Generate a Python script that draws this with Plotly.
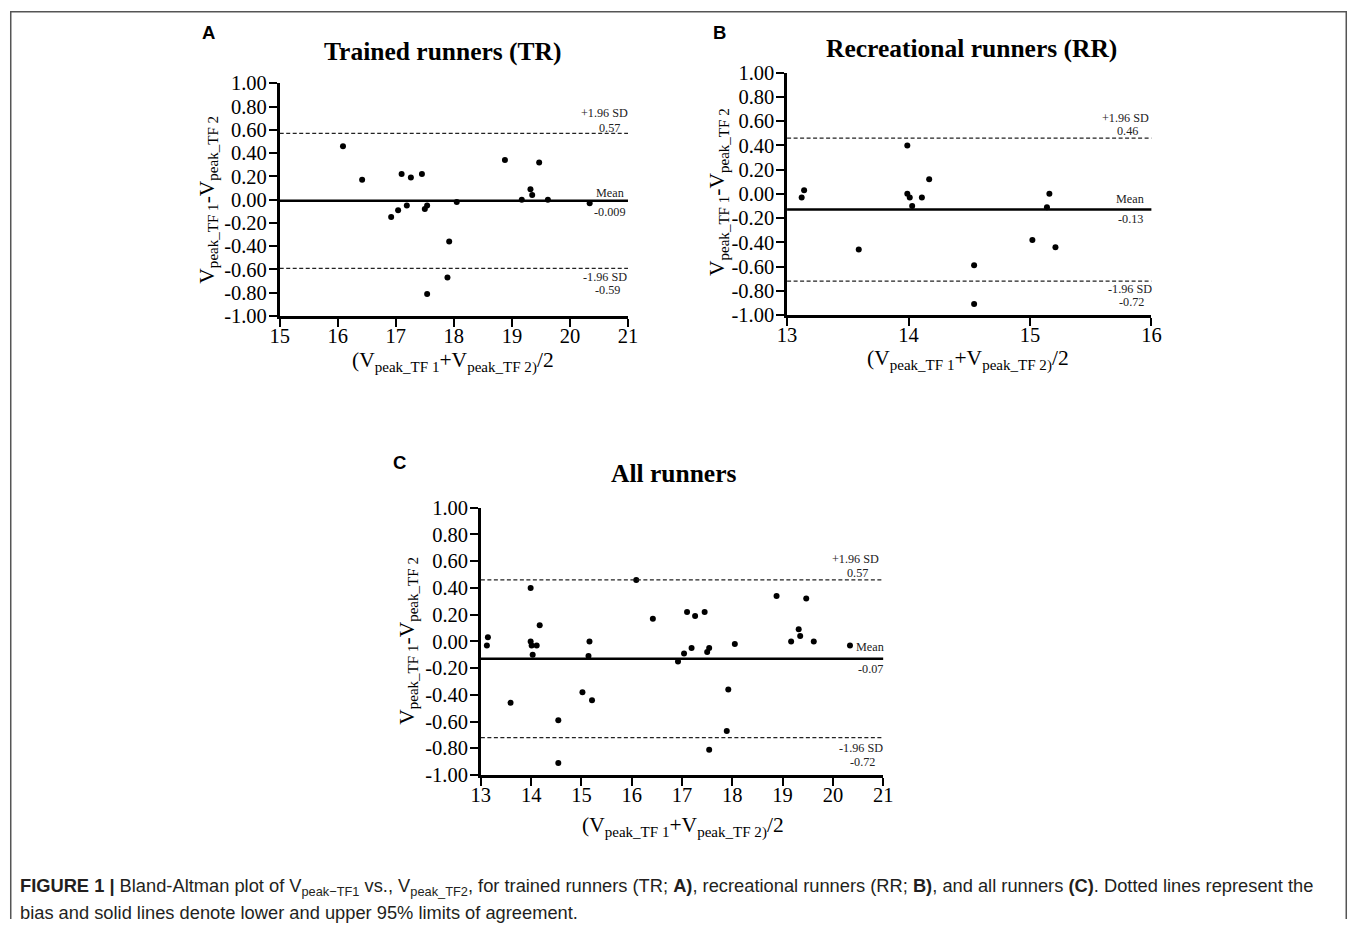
import plotly.graph_objects as go

W, H = 1357, 930

# ---------------- data ----------------
tr_mean = [16.09, 16.42, 16.92, 17.04, 17.10, 17.19, 17.26, 17.45, 17.50, 17.54, 17.54,
           17.92, 17.89, 18.05, 18.88, 19.17, 19.32, 19.35, 19.47, 19.62, 20.34]
tr_diff = [0.46, 0.17, -0.15, -0.09, 0.22, -0.05, 0.19, 0.22, -0.08, -0.05, -0.81,
           -0.36, -0.67, -0.02, 0.34, 0.00, 0.09, 0.04, 0.32, 0.00, -0.03]

rr_mean = [13.12, 13.14, 13.59, 13.99, 13.99, 14.01, 14.03, 14.11, 14.17, 14.54, 14.54,
           15.02, 15.14, 15.16, 15.21]
rr_diff = [-0.03, 0.03, -0.46, 0.40, 0.00, -0.03, -0.10, -0.03, 0.12, -0.59, -0.91,
           -0.38, -0.11, 0.00, -0.44]

all_mean = tr_mean + rr_mean
all_diff = tr_diff + rr_diff

# limits of agreement: [upper, mean, lower] (drawn position) and printed labels
tr_lines = [0.57, -0.009, -0.59]
tr_labels = ["0.57", "-0.009", "-0.59"]
rr_lines = [0.46, -0.13, -0.72]
rr_labels = ["0.46", "-0.13", "-0.72"]
all_lines = [0.46, -0.13, -0.72]
all_labels = ["0.57", "-0.07", "-0.72"]

y_ticks = [-1.0, -0.8, -0.6, -0.4, -0.2, 0.0, 0.2, 0.4, 0.6, 0.8, 1.0]
y_ticktext = ["-1.00", "-0.80", "-0.60", "-0.40", "-0.20", "0.00", "0.20", "0.40", "0.60", "0.80", "1.00"]
x_ticks_tr = [15, 16, 17, 18, 19, 20, 21]
x_ticks_rr = [13, 14, 15, 16]
x_ticks_all = [13, 14, 15, 16, 17, 18, 19, 20, 21]

titles = ["Trained runners (TR)", "Recreational runners (RR)", "All runners"]
letters = ["A", "B", "C"]

y_title = "V<sub>peak_TF 1</sub>-V<sub>peak_TF 2</sub>"
x_title = "(V<sub>peak_TF 1</sub>+V<sub>peak_TF 2)</sub>/2"

caption1 = ("<b>FIGURE 1 |</b> Bland-Altman plot of V<sub>peak\u2212TF1</sub> vs., V<sub>peak_TF2</sub>, "
            "for trained runners (TR; <b>A)</b>, recreational runners (RR; <b>B)</b>, and all runners "
            "<b>(C)</b>. Dotted lines represent the")
caption2 = "bias and solid lines denote lower and upper 95% limits of agreement."

# ---------------- layout helpers ----------------
# reference-image pixels -> page pixels (compensates the photo framing) -> paper fraction
SX, OX = 0.9845, 10.5
SY, OY = 0.9763, 11.0


def px(x):
    return ((x - OX) / SX) / W


def py(y):
    return 1 - ((y - OY) / SY) / H


SERIF = "Liberation Serif, Times New Roman, serif"
SANS = "Liberation Sans, Arial, sans-serif"

panels = [
    dict(ax="", xd=(280, 628), yd=(83.3, 316), xr=[15, 21], xt=x_ticks_tr,
         mx=tr_mean, my=tr_diff, lines=tr_lines, labels=tr_labels,
         title=(443, 51), letter=(209, 32), ytit=(208, 200), xtit=(453, 362),
         off=dict(up_sd=(2, 20), up_v=(-6, 5), mean=(-2, 8), mean_v=(-1, -11), lo_sd=(1, -9), lo_v=(-6, -22))),
    dict(ax="2", xd=(787, 1151), yd=(72.7, 315), xr=[13, 16], xt=x_ticks_rr,
         mx=rr_mean, my=rr_diff, lines=rr_lines, labels=rr_labels,
         title=(971, 48), letter=(719, 32), ytit=(718, 192), xtit=(968, 360),
         off=dict(up_sd=(0, 20), up_v=(-11, 7), mean=(-5, 11), mean_v=(-6, -9), lo_sd=(3, -8), lo_v=(-5, -21))),
    dict(ax="3", xd=(481, 883), yd=(507.7, 775), xr=[13, 21], xt=x_ticks_all,
         mx=all_mean, my=all_diff, lines=all_lines, labels=all_labels,
         title=(673, 473), letter=(400, 462), ytit=(408, 641), xtit=(683, 827),
         off=dict(up_sd=(-2, 21), up_v=(-13, 7), mean=(3, 12), mean_v=(2, -10), lo_sd=(2, -10), lo_v=(-6, -24))),
]

fig = go.Figure()
annotations = []
shapes = []
layout_axes = {}

for i, p in enumerate(panels):
    xa = "x" + p["ax"]
    ya = "y" + p["ax"]
    fig.add_trace(go.Scatter(
        x=p["mx"], y=p["my"], mode="markers", xaxis=xa, yaxis=ya,
        marker=dict(size=6, color="black"), cliponaxis=False, showlegend=False,
        hoverinfo="skip"))

    common = dict(showline=True, linewidth=2.5, linecolor="black", ticks="outside",
                  tickwidth=2, tickcolor="black", showgrid=False, zeroline=False,
                  tickfont=dict(family=SERIF, size=20.5, color="black"), fixedrange=True)
    layout_axes["xaxis" + p["ax"]] = dict(
        domain=[px(p["xd"][0]), px(p["xd"][1])], range=p["xr"], tickvals=p["xt"],
        ticklen=8, ticklabelstandoff=-8, anchor=ya, **common)
    layout_axes["yaxis" + p["ax"]] = dict(
        domain=[py(p["yd"][1]), py(p["yd"][0])], range=[-1, 1], tickvals=y_ticks,
        ticktext=y_ticktext, ticklen=8, ticklabelstandoff=-2, anchor=xa, **common)

    xdom = xa + " domain"
    up, mn, lo = p["lines"]
    shapes.append(dict(type="line", xref=xdom, yref=ya, x0=0, x1=1, y0=up, y1=up,
                       line=dict(color="#222", width=1.2, dash="4px,2.5px")))
    shapes.append(dict(type="line", xref=xdom, yref=ya, x0=0, x1=1, y0=lo, y1=lo,
                       line=dict(color="#222", width=1.2, dash="4px,2.5px")))
    shapes.append(dict(type="line", xref=xdom, yref=ya, x0=0, x1=1, y0=mn, y1=mn,
                       line=dict(color="black", width=2.5)))

    o = p["off"]
    lab_font = dict(family=SERIF, size=12.2, color="#222")
    for key, txt, yv in [("up_sd", "+1.96 SD", up), ("up_v", p["labels"][0], up),
                         ("mean", "Mean", mn), ("mean_v", p["labels"][1], mn),
                         ("lo_sd", "-1.96 SD", lo), ("lo_v", p["labels"][2], lo)]:
        annotations.append(dict(xref=xdom, yref=ya, x=1, y=yv, text=txt, showarrow=False,
                                xanchor="right", yanchor="middle", xshift=o[key][0],
                                yshift=o[key][1], font=lab_font))

    annotations.append(dict(xref="paper", yref="paper", x=px(p["title"][0]), y=py(p["title"][1]),
                            text="<b>" + titles[i] + "</b>", showarrow=False,
                            xanchor="center", yanchor="middle",
                            font=dict(family=SERIF, size=25.5, color="black")))
    annotations.append(dict(xref="paper", yref="paper", x=px(p["letter"][0]), y=py(p["letter"][1]),
                            text="<b>" + letters[i] + "</b>", showarrow=False,
                            xanchor="center", yanchor="middle",
                            font=dict(family=SANS, size=18.5, color="black")))
    annotations.append(dict(xref="paper", yref="paper", x=px(p["ytit"][0]), y=py(p["ytit"][1]),
                            text=y_title, showarrow=False, textangle=-90,
                            xanchor="center", yanchor="middle",
                            font=dict(family=SERIF, size=21.5, color="black")))
    annotations.append(dict(xref="paper", yref="paper", x=px(p["xtit"][0]), y=py(p["xtit"][1]),
                            text=x_title, showarrow=False,
                            xanchor="center", yanchor="middle",
                            font=dict(family=SERIF, size=21.5, color="black")))

# caption
annotations.append(dict(xref="paper", yref="paper", x=px(18), y=py(887), text=caption1,
                        showarrow=False, xanchor="left", yanchor="middle",
                        font=dict(family=SANS, size=18.3, color="#231f20")))
annotations.append(dict(xref="paper", yref="paper", x=px(18), y=py(912), text=caption2,
                        showarrow=False, xanchor="left", yanchor="middle",
                        font=dict(family=SANS, size=18.3, color="#231f20")))

# figure frame (open at bottom), as close to the page edge as possible
fl, ft, fr = 0.75 / W, 1 - 0.75 / H, 1 - 0.75 / W
shapes.append(dict(type="path", xref="paper", yref="paper",
                   path=f"M {fl},0 L {fl},{ft} L {fr},{ft} L {fr},0",
                   line=dict(color="#555", width=1.5)))

fig.update_layout(
    width=W, height=H, margin=dict(l=0, r=0, t=0, b=0),
    paper_bgcolor="white", plot_bgcolor="rgba(0,0,0,0)",
    annotations=annotations, shapes=shapes, showlegend=False,
    **layout_axes)

fig.write_html("out.html", config={"displayModeBar": False},
               post_script="document.body.style.margin='0';document.body.style.overflow='hidden';")
